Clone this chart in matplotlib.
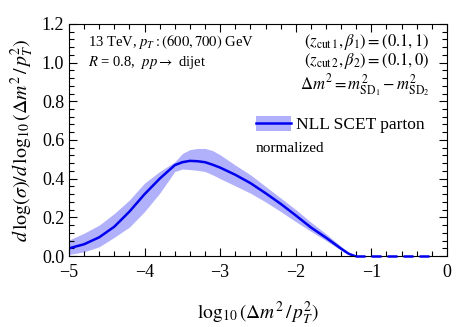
import matplotlib
matplotlib.use("Agg")
import matplotlib.pyplot as plt
from matplotlib.patches import Patch
from matplotlib.lines import Line2D
from matplotlib.ticker import MultipleLocator

plt.rcParams['font.family'] = ['Liberation Serif', 'DejaVu Serif']
plt.rcParams['mathtext.fontset'] = 'stix'

# values
x = [-5.0, -4.8, -4.6, -4.4, -4.2, -4.0, -3.8, -3.6, -3.5, -3.4, -3.3, -3.2,
     -3.1, -3.0, -2.8, -2.6, -2.4, -2.2, -2.0, -1.8, -1.6, -1.4, -1.3, -1.22]
central = [0.040, 0.061, 0.097, 0.152, 0.23, 0.32, 0.40, 0.47, 0.485, 0.492,
           0.49, 0.485, 0.472, 0.457, 0.42, 0.377, 0.325, 0.27, 0.21, 0.148,
           0.095, 0.038, 0.012, 0.0]
upper = [0.083, 0.118, 0.16, 0.22, 0.29, 0.377, 0.437, 0.487, 0.53, 0.55,
         0.556, 0.556, 0.545, 0.523, 0.47, 0.42, 0.36, 0.30, 0.24, 0.175,
         0.115, 0.05, 0.015, 0.0]
lower = [0.008, 0.022, 0.048, 0.097, 0.15, 0.23, 0.325, 0.437, 0.45, 0.447,
         0.443, 0.437, 0.42, 0.40, 0.363, 0.325, 0.28, 0.23, 0.178, 0.128,
         0.08, 0.03, 0.008, 0.0]
x_tail = [-1.22, -0.2]
y_tail = [0.0, 0.0]

band_col = '#b0b0fb'
line_col = '#0000ee'

fig = plt.figure(figsize=(4.57, 3.27), dpi=100)
ax = fig.add_axes([0.151, 0.217, 0.827, 0.71])

ax.fill_between(x, lower, upper, color=band_col, lw=0)
ax.plot(x, central, color=line_col, lw=1.8)
ax.plot(x_tail, y_tail, color=line_col, lw=1.8, ls=(0, (4, 2.4)), clip_on=False, zorder=3)

ax.set_xlim(-5, 0)
ax.set_ylim(0, 1.2)
ax.xaxis.set_major_locator(MultipleLocator(1))
ax.xaxis.set_minor_locator(MultipleLocator(0.2))
ax.yaxis.set_major_locator(MultipleLocator(0.2))
ax.yaxis.set_minor_locator(MultipleLocator(0.04))
ax.tick_params(which='both', direction='in', top=True, right=True, labelsize=13)
ax.tick_params(axis='x', pad=6)
ax.tick_params(which='major', length=6, width=0.8)
ax.tick_params(which='minor', length=3.5, width=0.8)

ax.set_xlabel(r'$\log_{10}(\Delta m^2\,/\,p_T^2)$', fontsize=14, labelpad=13)
ax.set_ylabel(r'$d\,\log(\sigma)/d\,\log_{10}(\Delta m^2\,/\,p_T^2)$', fontsize=14.3, labelpad=4)

ax.text(0.05, 0.905, r'13 TeV, $p_T: (600, 700)$ GeV', transform=ax.transAxes, fontsize=10.5)
ax.text(0.05, 0.82, r'$R$ = 0.8,  $pp \rightarrow$ dijet', transform=ax.transAxes, fontsize=10.5)
ax.text(0.955, 0.905, r'$(z_{\rm cut\,1}, \beta_1) = (0.1, 1)$', transform=ax.transAxes,
        fontsize=12, ha='right')
ax.text(0.955, 0.825, r'$(z_{\rm cut\,2}, \beta_2) = (0.1, 0)$', transform=ax.transAxes,
        fontsize=12, ha='right')
ax.text(0.955, 0.715, r'$\Delta m^2 = m^2_{\rm SD_1} - m^2_{\rm SD_2}$', transform=ax.transAxes,
        fontsize=12, ha='right')

handle = (Patch(facecolor=band_col, lw=0), Line2D([], [], color=line_col, lw=1.8))
leg = ax.legend([handle], ['NLL SCET parton'], loc='center left', bbox_to_anchor=(0.495, 0.565),
                frameon=False, fontsize=12.5, handlelength=2.0, handleheight=0.9,
                handletextpad=0.3, borderpad=0, borderaxespad=0)
ax.text(0.495, 0.447, 'normalized', transform=ax.transAxes, fontsize=11, va='baseline')

fig.savefig('out.png', dpi=100)
